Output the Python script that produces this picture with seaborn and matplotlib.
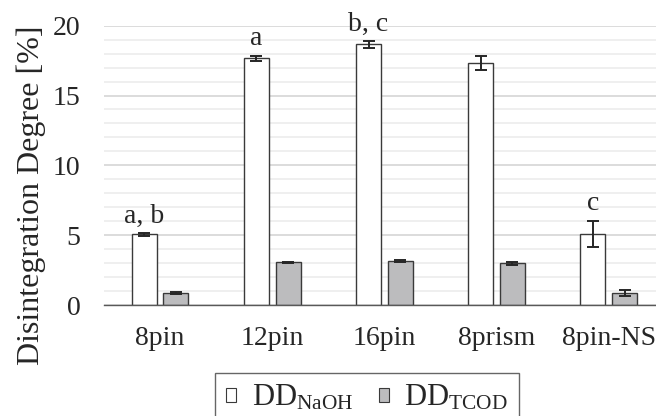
import seaborn as sns
import pandas as pd
import matplotlib.pyplot as plt
from matplotlib.patches import Patch
from matplotlib.ticker import MultipleLocator

categories = ['8pin', '12pin', '16pin', '8prism', '8pin-NS']
dd_naoh = [5.05, 17.66, 18.66, 17.35, 5.08]
dd_naoh_err = [0.1, 0.2, 0.25, 0.5, 0.94]
dd_tcod = [0.86, 3.05, 3.17, 2.98, 0.86]
dd_tcod_err = [0.05, 0.05, 0.06, 0.08, 0.2]
letters = ['a, b', 'a', 'b, c', '', 'c']
series = ['DD$_{\\mathrm{NaOH}}$', 'DD$_{\\mathrm{TCOD}}$']

sns.set_style('white')
plt.rcParams['font.family'] = ['Liberation Serif', 'DejaVu Serif']
plt.rcParams['mathtext.fontset'] = 'custom'
plt.rcParams['mathtext.rm'] = 'Liberation Serif'
plt.rcParams['mathtext.it'] = 'Liberation Serif:italic'
plt.rcParams['text.color'] = '#262626'
plt.rcParams['xtick.color'] = '#262626'
plt.rcParams['ytick.color'] = '#262626'

df = pd.DataFrame({
    'cat': categories * 2,
    'val': dd_naoh + dd_tcod,
    'series': [series[0]] * 5 + [series[1]] * 5,
})

fig = plt.figure(figsize=(6.56, 4.16), dpi=100)
ax = fig.add_axes([0.1585, 0.2668, 0.855, 0.6714])

colors = {series[0]: 'white', series[1]: '#bcbcbe'}
sns.barplot(data=df, x='cat', y='val', hue='series', palette=colors,
            width=0.567, gap=0.213, errorbar=None, edgecolor='#3a3a3a',
            linewidth=1.0, legend=False, ax=ax)

# error bars and letters, placed at the bar centres seaborn drew
for cont, errs, vals in zip(ax.containers, [dd_naoh_err, dd_tcod_err], [dd_naoh, dd_tcod]):
    xs = [p.get_x() + p.get_width() / 2 for p in cont.patches]
    ax.errorbar(xs, vals, yerr=errs, fmt='none', ecolor='#262626',
                elinewidth=1.4, capsize=4.3, capthick=1.4, zorder=5)
xs0 = [p.get_x() + p.get_width() / 2 for p in ax.containers[0].patches]
for x, v, e, t in zip(xs0, dd_naoh, dd_naoh_err, letters):
    if t:
        ax.text(x, v + e + 0.75, t, ha='center', va='baseline', fontsize=20)

ax.set_ylim(0, 20)
ax.set_xlim(-0.5, 4.5)
ax.yaxis.set_major_locator(MultipleLocator(5))
ax.yaxis.set_minor_locator(MultipleLocator(1))
ax.set_axisbelow(True)
ax.grid(axis='y', which='major', color='#d9d9d9', linewidth=1.3)
ax.grid(axis='y', which='minor', color='#eeeeee', linewidth=1.3)
for s in ['top', 'right', 'left']:
    ax.spines[s].set_visible(False)
ax.spines['bottom'].set_color('#595959')
ax.spines['bottom'].set_linewidth(1.0)
ax.tick_params(axis='both', which='both', length=0, labelsize=20)
ax.tick_params(axis='y', pad=17)
ax.tick_params(axis='x', pad=15)
ax.set_xlabel('')
ax.set_ylabel('Disintegration Degree [%]', fontsize=23)
ax.yaxis.set_label_coords(-0.103, 0.394)

handles = [Patch(facecolor=colors[s], edgecolor='#3a3a3a', linewidth=0.8) for s in series]
leg = fig.legend(handles, series, loc='upper center', bbox_to_anchor=(367 / 656, 1 - 372.7 / 416),
                 ncol=2, fontsize=22, frameon=True, fancybox=False, edgecolor='#404040',
                 handlelength=0.33, handleheight=0.33, handletextpad=0.5, columnspacing=0.85,
                 borderaxespad=0, borderpad=0.35)
leg.get_frame().set_linewidth(1.0)

fig.savefig('out.png', dpi=100)
